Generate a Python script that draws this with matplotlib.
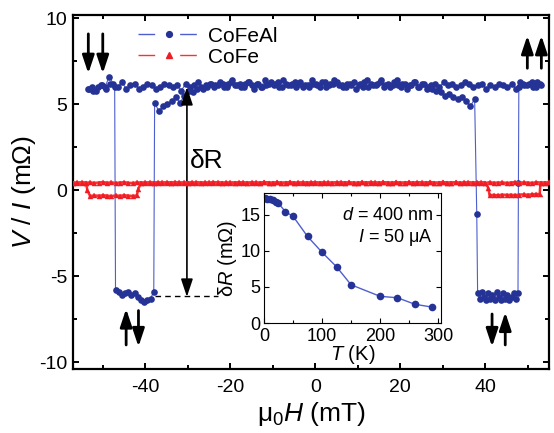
import matplotlib
matplotlib.use("Agg")
import matplotlib.pyplot as plt
from matplotlib.lines import Line2D
from matplotlib.ticker import MultipleLocator
import numpy as np

plt.rcParams['font.family'] = ['Liberation Sans', 'DejaVu Sans']
plt.rcParams['mathtext.fontset'] = 'custom'
plt.rcParams['mathtext.rm'] = 'Liberation Sans'
plt.rcParams['mathtext.it'] = 'Liberation Sans:italic'
plt.rcParams['axes.unicode_minus'] = False

# ---- CoFeAl, sweep up (field in mT, V/I in mOhm) ----
alu_up_field = np.concatenate([np.arange(-53.5, 38.0, 1.0), [38.0],
                               np.arange(38.2, 47.75, 0.5), [47.8],
                               np.arange(47.9, 53.5, 1.0)])
alu_up_high = [5.9, 6.0, 5.8, 6.1, 6.0, 6.6, 6.2, 6.0, 6.3, 5.9,
               6.1, 6.2, 5.9, 6.0, 6.2, 6.1, 5.9, 6.0, 6.2, 6.1,
               6.0, 6.1, 5.8, 6.2, 6.0, 6.1, 6.3, 5.9, 6.0, 6.2,
               6.1, 6.3, 6.0, 6.2, 6.4, 6.1, 6.0, 6.2, 6.3, 5.9,
               6.2, 6.0, 6.1, 6.3, 6.2, 6.0, 6.4, 6.1, 6.2, 6.0,
               6.3, 6.1, 6.0, 6.2, 6.1, 6.3, 6.0, 6.2, 6.4, 6.1,
               6.0, 6.2, 6.1, 5.9, 6.2, 6.3, 6.0, 6.1, 6.2, 6.4,
               6.1, 6.0, 6.3, 6.1, 6.2, 5.9, 6.1, 6.3, 6.0, 6.2,
               6.0, 5.9, 5.8, 5.7, 5.5, 5.6, 5.4, 5.3, 5.4, 5.2, 4.9, 5.3]
alu_up_low = [-6.0, -6.3, -5.9, -6.2, -6.4, -6.0, -6.3, -6.1, -6.4, -5.9,
              -6.2, -6.4, -6.0, -6.3, -6.1, -6.4, -6.2, -6.0, -6.3, -6.0]
alu_up_end = [6.0, 6.2, 6.1, 6.3, 6.0, 6.2]
alu_up_val = alu_up_high + [-1.4] + alu_up_low + [0.4] + alu_up_end

# ---- CoFeAl, sweep down ----
alu_dn_field = np.concatenate([np.arange(53.2, -38.3, -1.0),
                               np.arange(-38.0, -47.1, -0.75),
                               np.arange(-47.2, -53.7, -1.0)])
alu_dn_high = [6.1, 6.3, 6.0, 6.2, 6.1, 6.3, 5.9, 6.2, 6.0, 6.1,
               6.2, 6.0, 6.1, 5.9, 6.2, 6.1, 6.0, 6.2, 6.3, 6.1,
               6.0, 6.2, 6.1, 6.3, 6.0, 6.2, 6.1, 5.9, 6.2, 6.0,
               6.3, 6.1, 6.2, 6.0, 6.4, 6.1, 6.2, 6.0, 6.3, 6.1,
               6.2, 6.4, 6.0, 6.1, 6.3, 6.2, 6.0, 6.1, 6.3, 6.2,
               6.1, 6.3, 6.0, 6.2, 6.4, 6.1, 6.0, 6.2, 6.3, 6.1,
               6.2, 6.0, 6.3, 6.1, 6.2, 6.4, 6.0, 6.2, 6.1, 6.3,
               6.0, 6.2, 6.1, 6.3, 6.0, 6.2, 6.1, 6.0, 6.2, 6.1,
               6.0, 5.9, 5.7, 5.8, 5.5, 5.1, 5.4, 5.2, 5.0, 4.9, 4.6, 5.1]
alu_dn_low = [-5.9, -6.3, -6.4, -6.5, -6.4, -6.2, -6.0, -6.1, -5.9, -6.0,
              -6.1, -5.9, -5.8]
alu_dn_end = [6.0, 6.2, 5.9, 6.1, 6.0, 5.8, 5.9]
alu_dn_val = alu_dn_high + alu_dn_low + alu_dn_end

# ---- CoFe, sweep up ----
fe_up_field = np.concatenate([np.arange(-57, 40.5, 1.0), [40.7],
                              np.arange(41, 52.5, 1.0), [52.8],
                              np.arange(53.0, 55.5, 1.0)])
fe_up_high = [0.45, 0.42, 0.47, 0.44, 0.46, 0.43, 0.45, 0.48, 0.44, 0.46,
              0.43, 0.45, 0.47, 0.44, 0.42, 0.46, 0.45, 0.43, 0.47, 0.45,
              0.44, 0.46, 0.43, 0.45, 0.48, 0.44, 0.46, 0.45, 0.42, 0.47,
              0.45, 0.43, 0.46, 0.44, 0.47, 0.45, 0.43, 0.46, 0.44, 0.45,
              0.47, 0.43, 0.45, 0.46, 0.44, 0.48, 0.45, 0.43, 0.46, 0.44,
              0.45, 0.47, 0.44, 0.42, 0.46, 0.45, 0.43, 0.47, 0.45, 0.44,
              0.46, 0.43, 0.45, 0.48, 0.44, 0.46, 0.45, 0.42, 0.47, 0.45,
              0.43, 0.46, 0.44, 0.47, 0.45, 0.43, 0.46, 0.44, 0.45, 0.47,
              0.43, 0.45, 0.46, 0.44, 0.48, 0.45, 0.43, 0.46, 0.44, 0.45,
              0.47, 0.44, 0.42, 0.46, 0.45, 0.43, 0.47, 0.45]
fe_up_low = [-0.28, -0.27, -0.29, -0.25, -0.27, -0.26, -0.28, -0.25, -0.24,
             -0.26, -0.23, -0.22, -0.22]
fe_up_end = [0.45, 0.44, 0.46]
fe_up_val = fe_up_high + [0.15] + fe_up_low + fe_up_end

# ---- CoFe, sweep down ----
fe_dn_field = np.concatenate([np.arange(55, -41.5, -1.0), [-41.6],
                              np.arange(-42, -53.5, -1.0), [-53.6],
                              np.arange(-54, -57.5, -1.0)])
fe_dn_high = [0.46, 0.44, 0.45, 0.47, 0.43, 0.45, 0.46, 0.44, 0.48, 0.45,
              0.43, 0.46, 0.45, 0.44, 0.47, 0.42, 0.45, 0.46, 0.44, 0.45,
              0.47, 0.43, 0.46, 0.45, 0.44, 0.48, 0.45, 0.43, 0.46, 0.44,
              0.45, 0.47, 0.44, 0.46, 0.43, 0.45, 0.47, 0.44, 0.45, 0.46,
              0.43, 0.45, 0.48, 0.44, 0.46, 0.45, 0.42, 0.46, 0.45, 0.44,
              0.47, 0.45, 0.43, 0.46, 0.44, 0.45, 0.47, 0.43, 0.45, 0.46,
              0.44, 0.48, 0.45, 0.43, 0.46, 0.44, 0.45, 0.47, 0.44, 0.42,
              0.46, 0.45, 0.43, 0.47, 0.45, 0.44, 0.46, 0.43, 0.45, 0.48,
              0.44, 0.46, 0.45, 0.42, 0.47, 0.45, 0.43, 0.46, 0.44, 0.45,
              0.47, 0.44, 0.46, 0.45, 0.43, 0.46, 0.44]
fe_dn_low = [-0.30, -0.33, -0.31, -0.29, -0.32, -0.30, -0.34, -0.31, -0.29,
             -0.32, -0.30, -0.33]
fe_dn_end = [0.45, 0.43, 0.46, 0.44]
fe_dn_val = fe_dn_high + [0.1] + fe_dn_low + [0.0] + fe_dn_end

# ---- inset: deltaR vs T ----
temp_K = [2, 5, 10, 15, 20, 25, 37, 50, 75, 100, 125, 150, 200, 230, 260, 290]
delta_R = [17.3, 17.2, 17.2, 17.0, 16.8, 16.6, 15.4, 14.8, 12.0, 9.8, 7.8,
           5.3, 3.7, 3.5, 2.6, 2.2]

blue = '#263396'
blue_line = '#4d5fcf'
red = '#ee1c24'
red_line = '#ff3030'

fig = plt.figure(figsize=(5.54, 4.33), dpi=100)
ax = fig.add_axes([0.1318, 0.1478, 0.8592, 0.8176])

for f, v in [(alu_up_field, alu_up_val), (alu_dn_field, alu_dn_val)]:
    ax.plot(f, v, '-', color=blue_line, lw=0.8, zorder=2)
    ax.plot(f, v, 'o', color=blue, ms=4.8, mew=0, zorder=3)
for f, v in [(fe_up_field, fe_up_val), (fe_dn_field, fe_dn_val)]:
    ax.plot(f, v, '-', color=red_line, lw=1.8, zorder=4)
    ax.plot(f, v, '^', color=red, ms=3.6, mew=0.3, zorder=4)

ax.set_xlim(-57, 55)
ax.set_ylim(-10.4, 10.2)
ax.xaxis.set_major_locator(MultipleLocator(20))
ax.xaxis.set_minor_locator(MultipleLocator(10))
ax.yaxis.set_major_locator(MultipleLocator(5))
ax.yaxis.set_minor_locator(MultipleLocator(2.5))
ax.tick_params(which='both', direction='in', top=True, right=True, width=1.4)
ax.tick_params(which='major', length=4.5, labelsize=14)
ax.tick_params(which='minor', length=3)
ax.tick_params(axis='x', pad=7)
ax.tick_params(axis='y', pad=4)
for s in ax.spines.values():
    s.set_linewidth(1.6)

ax.set_xlabel(r'μ$_0H$ (mT)', fontsize=19, labelpad=3)
ax.set_ylabel(r'$V$ / $I$ (mΩ)', fontsize=19, labelpad=1)

handles = [Line2D([], [], color=blue_line, lw=1, ls=(0, (12, 18)),
                  marker='o', ms=4.2, mfc=blue, mec=blue),
           Line2D([], [], color=red_line, lw=1, ls=(0, (12, 18)),
                  marker='^', ms=4, mfc=red, mec=red)]
ax.legend(handles, ['CoFeAl', 'CoFe'], loc='upper left',
          bbox_to_anchor=(0.137, 0.967), frameon=False, fontsize=15,
          borderpad=0, borderaxespad=0, handlelength=3.0,
          handletextpad=0.35, labelspacing=0.1)

# spin configuration arrows
arrow_kw = dict(arrowstyle='-|>,head_length=0.6,head_width=0.2',
                color='k', lw=2, mutation_scale=18, shrinkA=0, shrinkB=0)
for x, y0, y1 in [(-53.4, 9.1, 6.8), (-50.0, 9.1, 6.8),
                  (49.9, 7.1, 9.0), (53.2, 7.1, 9.0),
                  (-44.5, -9.0, -6.9), (-41.6, -7.0, -9.1),
                  (41.6, -7.2, -9.1), (44.7, -9.0, -7.1)]:
    ax.annotate('', xy=(x, y1), xytext=(x, y0), arrowprops=arrow_kw)

# deltaR marker
ax.annotate('', xy=(-30.2, 6.0), xytext=(-30.2, -6.2),
            arrowprops=dict(arrowstyle='<|-|>,head_length=0.6,head_width=0.2',
                            color='k', lw=1.2, mutation_scale=18,
                            shrinkA=0, shrinkB=0))
ax.plot([-37.6, -23], [-6.15, -6.15], color='k', lw=1, ls=(0, (4, 3)))
ax.text(-29.6, 1.7, 'δR', fontsize=19, ha='left', va='center')

# inset
ins = fig.add_axes([0.4765, 0.254, 0.3195, 0.300])
ins.plot(temp_K, delta_R, '-', color=blue_line, lw=1)
ins.plot(temp_K, delta_R, 'o', color=blue, ms=5.5, mew=0)
ins.set_xlim(0, 305)
ins.set_ylim(0, 18)
ins.xaxis.set_major_locator(MultipleLocator(100))
ins.xaxis.set_minor_locator(MultipleLocator(50))
ins.yaxis.set_major_locator(MultipleLocator(5))
ins.tick_params(which='both', direction='in', top=True, right=True,
                width=0.8, labelsize=13)
ins.tick_params(axis='x', pad=3.5)
ins.tick_params(axis='y', pad=2.5)
ins.tick_params(which='major', length=3.5)
ins.tick_params(which='minor', length=2.5)
for s in ins.spines.values():
    s.set_linewidth(0.8)
ins.set_xlabel(r'$T$ (K)', fontsize=14.5, labelpad=-1)
ins.set_ylabel(r'δ$R$ (mΩ)', fontsize=14.5, labelpad=1)
ins.text(0.955, 0.83, r'$d$ = 400 nm', transform=ins.transAxes,
         ha='right', va='center', fontsize=13)
ins.text(0.955, 0.66, r'$I$ = 50 μA', transform=ins.transAxes,
         ha='right', va='center', fontsize=13)

fig.savefig('out.png', dpi=100)
